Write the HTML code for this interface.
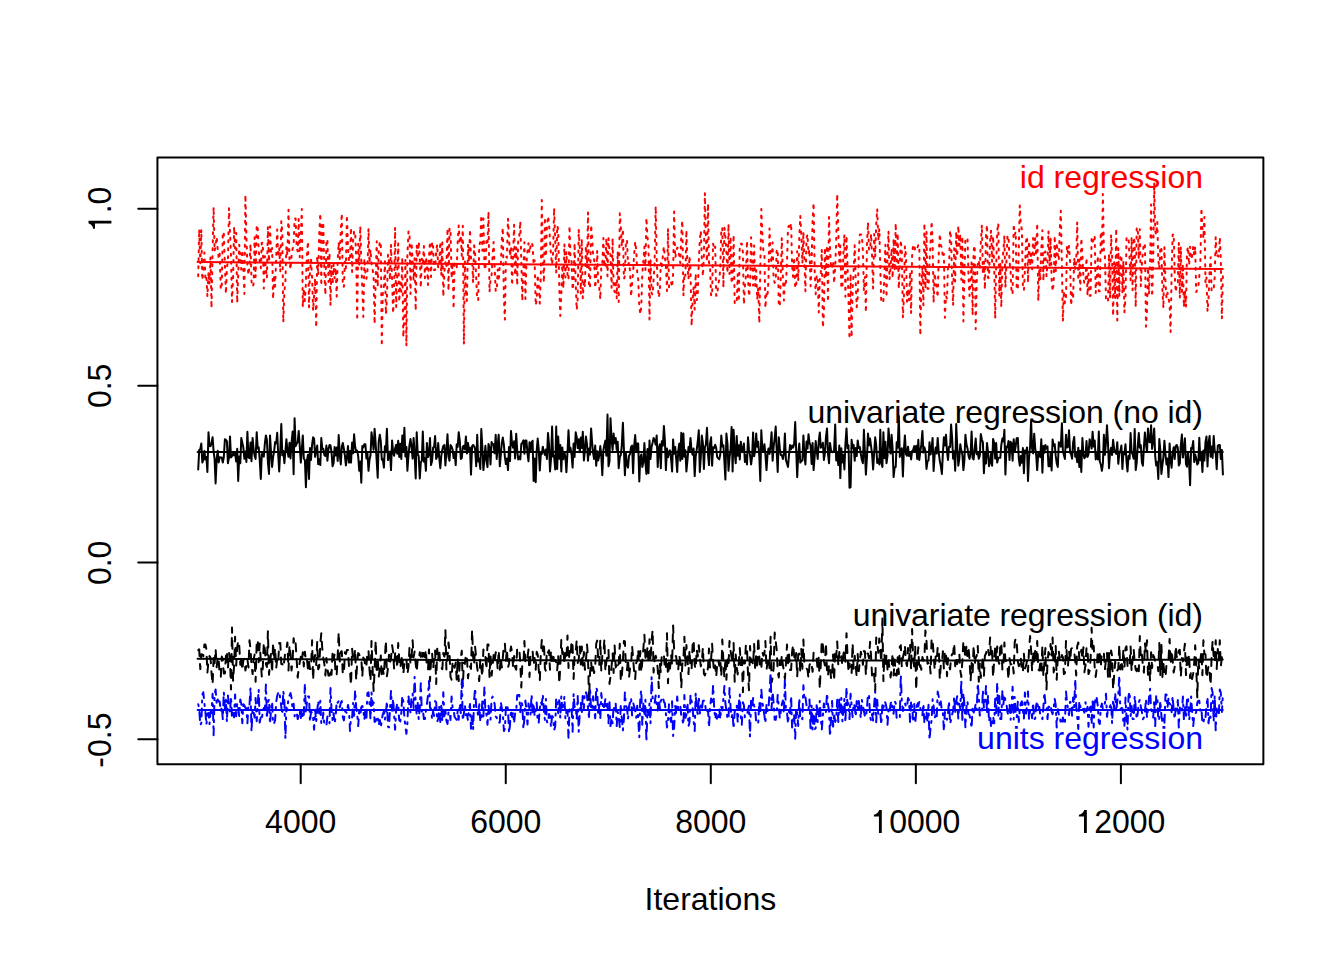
<!DOCTYPE html>
<html><head><meta charset="utf-8"><title>MCMC traces</title>
<style>
html,body{margin:0;padding:0;background:#fff;}
svg{display:block;}
text{font-family:"Liberation Sans", sans-serif;font-size:32px;}
</style></head>
<body>
<svg width="1344" height="960" viewBox="0 0 1344 960">
<rect x="0" y="0" width="1344" height="960" fill="#fff"/>
<g text-anchor="end">
<text x="1203" y="187.8" fill="#ff0000">id regression</text>
<text x="1203" y="422.8" fill="#000" textLength="395.6" lengthAdjust="spacing">univariate regression (no id)</text>
<text x="1203" y="626.1" fill="#000" textLength="350.3" lengthAdjust="spacing">univariate regression (id)</text>
<text x="1203" y="749.3" fill="#0000ff">units regression</text>
</g>
<g fill="none" stroke-linecap="round" stroke-linejoin="round" stroke-width="2">
<polyline stroke="#ff0000" stroke-dasharray="2 6" points="198.2,276.2 199.2,229.3 200.3,263.3 201.3,229.5 202.3,280.2 203.3,272.2 204.4,252.6 205.4,279.3 206.4,276.7 207.4,296.6 208.5,272.1 209.5,284.2 210.5,256.7 211.5,308.1 212.6,250.4 213.6,207.1 214.6,251.1 215.6,245.6 216.7,236.7 217.7,250.0 218.7,257.7 219.7,253.2 220.8,289.6 221.8,285.1 222.8,231.8 223.8,233.6 224.9,264.5 225.9,293.9 226.9,267.7 227.9,260.7 229.0,208.0 230.0,232.1 231.0,256.1 232.0,301.9 233.1,277.0 234.1,226.6 235.1,248.5 236.2,233.1 237.2,302.8 238.2,274.6 239.2,244.8 240.3,256.5 241.3,269.6 242.3,250.1 243.3,268.4 244.4,293.9 245.4,194.7 246.4,237.6 247.4,265.1 248.5,275.0 249.5,265.7 250.5,244.0 251.5,281.4 252.6,286.8 253.6,284.0 254.6,237.2 255.6,277.1 256.7,224.8 257.7,227.9 258.7,250.7 259.7,261.1 260.8,268.2 261.8,242.9 262.8,242.4 263.8,288.6 264.9,256.2 265.9,269.1 266.9,278.0 267.9,226.6 269.0,261.8 270.0,226.6 271.0,253.1 272.1,247.9 273.1,299.2 274.1,274.9 275.1,286.6 276.2,256.9 277.2,229.4 278.2,257.2 279.2,247.4 280.3,271.8 281.3,221.3 282.3,231.9 283.3,322.2 284.4,291.4 285.4,281.3 286.4,246.6 287.4,255.1 288.5,209.8 289.5,260.2 290.5,269.5 291.5,256.2 292.6,248.9 293.6,245.6 294.6,218.6 295.6,218.4 296.7,248.0 297.7,251.4 298.7,219.0 299.7,257.3 300.8,235.3 301.8,208.9 302.8,307.2 303.8,288.7 304.9,300.9 305.9,282.6 306.9,255.0 308.0,241.4 309.0,307.5 310.0,272.1 311.0,259.5 312.1,277.9 313.1,310.7 314.1,295.0 315.1,278.4 316.2,327.6 317.2,256.2 318.2,275.1 319.2,234.9 320.3,213.3 321.3,285.8 322.3,222.1 323.3,224.4 324.4,273.3 325.4,295.0 326.4,242.3 327.4,239.1 328.5,281.9 329.5,252.8 330.5,305.4 331.5,265.6 332.6,284.6 333.6,263.6 334.6,278.3 335.6,267.9 336.7,296.6 337.7,260.2 338.7,242.2 339.8,259.1 340.8,230.1 341.8,213.3 342.8,286.8 343.9,286.8 344.9,261.8 345.9,268.3 346.9,215.1 348.0,246.6 349.0,261.5 350.0,258.8 351.0,227.6 352.1,271.9 353.1,241.1 354.1,231.4 355.1,231.0 356.2,257.7 357.2,320.5 358.2,243.8 359.2,265.3 360.3,226.1 361.3,261.4 362.3,288.8 363.3,316.9 364.4,258.4 365.4,272.9 366.4,278.8 367.4,273.5 368.5,228.4 369.5,263.1 370.5,249.5 371.5,263.7 372.6,268.9 373.6,276.9 374.6,324.0 375.7,279.0 376.7,241.3 377.7,286.9 378.7,252.7 379.8,241.3 380.8,245.2 381.8,346.1 382.8,294.1 383.9,286.1 384.9,261.3 385.9,314.1 386.9,299.7 388.0,254.5 389.0,261.7 390.0,280.0 391.0,244.4 392.1,280.3 393.1,313.4 394.1,292.1 395.1,227.5 396.2,307.2 397.2,276.4 398.2,243.5 399.2,302.0 400.3,282.4 401.3,291.8 402.3,257.4 403.3,337.3 404.4,315.7 405.4,260.0 406.4,346.1 407.4,255.0 408.5,231.4 409.5,231.4 410.5,294.1 411.6,242.7 412.6,260.3 413.6,280.7 414.6,258.3 415.7,310.7 416.7,245.2 417.7,258.7 418.7,241.6 419.8,257.3 420.8,287.7 421.8,258.8 422.8,263.9 423.9,246.1 424.9,278.2 425.9,257.0 426.9,263.5 428.0,285.0 429.0,256.3 430.0,241.6 431.0,277.0 432.1,241.7 433.1,246.9 434.1,270.1 435.1,269.9 436.2,251.2 437.2,244.3 438.2,268.0 439.2,264.4 440.3,241.7 441.3,275.5 442.3,242.6 443.3,296.6 444.4,271.2 445.4,262.3 446.4,267.9 447.5,228.4 448.5,290.8 449.5,228.4 450.5,228.4 451.6,278.6 452.6,262.3 453.6,309.0 454.6,263.5 455.7,265.4 456.7,268.0 457.7,242.0 458.7,225.4 459.8,243.9 460.8,235.1 461.8,256.0 462.8,225.7 463.9,344.4 464.9,261.4 465.9,290.4 466.9,301.0 468.0,244.5 469.0,262.1 470.0,229.3 471.0,258.4 472.1,259.1 473.1,282.6 474.1,245.3 475.1,254.2 476.2,277.8 477.2,300.1 478.2,300.1 479.2,247.0 480.3,241.0 481.3,215.1 482.3,250.8 483.4,218.5 484.4,265.2 485.4,270.1 486.4,241.3 487.5,244.8 488.5,211.6 489.5,292.1 490.5,280.7 491.6,275.4 492.6,256.1 493.6,242.1 494.6,265.9 495.7,291.3 496.7,290.6 497.7,269.5 498.7,281.3 499.8,264.8 500.8,265.3 501.8,240.0 502.8,227.5 503.9,299.5 504.9,319.6 505.9,256.6 506.9,257.7 508.0,218.6 509.0,237.6 510.0,256.3 511.0,247.2 512.1,285.5 513.1,254.1 514.1,224.8 515.1,275.2 516.2,247.5 517.2,285.5 518.2,239.9 519.3,235.9 520.3,221.3 521.3,260.9 522.3,301.0 523.4,271.0 524.4,242.3 525.4,298.9 526.4,264.8 527.5,250.8 528.5,243.2 529.5,253.0 530.5,246.1 531.6,242.3 532.6,245.5 533.6,264.5 534.6,260.2 535.7,305.4 536.7,299.5 537.7,274.7 538.7,284.7 539.8,303.6 540.8,275.3 541.8,200.1 542.8,259.6 543.9,282.6 544.9,217.3 545.9,256.7 546.9,227.5 548.0,216.0 549.0,223.1 550.0,240.8 551.0,255.8 552.1,264.5 553.1,252.3 554.1,208.0 555.2,239.7 556.2,272.8 557.2,225.7 558.2,229.3 559.3,288.4 560.3,316.0 561.3,294.1 562.3,265.0 563.4,288.1 564.4,244.0 565.4,277.4 566.4,251.6 567.5,274.7 568.5,279.5 569.5,225.7 570.5,256.7 571.6,261.7 572.6,290.0 573.6,282.5 574.6,243.1 575.7,283.0 576.7,309.8 577.7,298.9 578.7,229.3 579.8,248.3 580.8,293.8 581.8,238.9 582.8,298.3 583.9,280.2 584.9,286.9 585.9,245.5 587.0,267.8 588.0,212.4 589.0,287.7 590.0,287.7 591.1,224.8 592.1,236.9 593.1,254.8 594.1,258.8 595.2,288.1 596.2,277.8 597.2,250.6 598.2,284.2 599.3,288.3 600.3,299.2 601.3,265.2 602.3,264.0 603.4,238.1 604.4,267.4 605.4,265.8 606.4,238.1 607.5,276.2 608.5,238.1 609.5,251.3 610.5,254.8 611.6,287.7 612.6,238.1 613.6,287.7 614.6,292.0 615.7,280.3 616.7,298.7 617.7,251.4 618.7,301.9 619.8,213.3 620.8,226.6 621.8,246.7 622.9,228.9 623.9,279.0 624.9,275.8 625.9,241.9 627.0,239.9 628.0,264.9 629.0,262.7 630.0,270.6 631.1,296.6 632.1,283.0 633.1,272.9 634.1,254.9 635.2,241.7 636.2,249.4 637.2,272.8 638.2,279.4 639.3,306.3 640.3,314.3 641.3,306.3 642.3,273.2 643.4,261.0 644.4,246.5 645.4,270.2 646.4,217.8 647.5,237.5 648.5,245.4 649.5,319.6 650.5,259.1 651.6,293.3 652.6,294.8 653.6,279.0 654.6,263.0 655.7,206.3 656.7,259.2 657.7,285.1 658.8,297.4 659.8,291.4 660.8,263.2 661.8,268.3 662.9,255.0 663.9,246.4 664.9,257.7 665.9,264.1 667.0,290.9 668.0,228.4 669.0,287.2 670.0,287.2 671.1,282.4 672.1,287.2 673.1,273.5 674.1,211.6 675.2,258.0 676.2,252.9 677.2,247.6 678.2,248.6 679.3,256.4 680.3,263.1 681.3,234.3 682.3,220.4 683.4,295.7 684.4,273.2 685.4,275.7 686.4,230.2 687.5,267.6 688.5,279.1 689.5,256.3 690.5,270.4 691.6,325.8 692.6,301.2 693.6,286.6 694.7,309.6 695.7,273.4 696.7,300.1 697.7,296.9 698.8,261.1 699.8,239.9 700.8,230.7 701.8,257.9 702.9,276.5 703.9,255.7 704.9,193.0 705.9,239.9 707.0,261.5 708.0,203.6 709.0,262.8 710.0,266.0 711.1,295.7 712.1,295.7 713.1,243.5 714.1,249.4 715.2,246.7 716.2,295.7 717.2,295.7 718.2,284.4 719.3,279.2 720.3,268.6 721.3,230.7 722.3,227.5 723.4,287.6 724.4,227.4 725.4,237.3 726.4,251.9 727.5,273.2 728.5,224.0 729.5,274.0 730.6,236.7 731.6,283.5 732.6,277.7 733.6,234.7 734.7,303.2 735.7,303.6 736.7,303.6 737.7,274.2 738.8,301.6 739.8,243.7 740.8,243.7 741.8,243.7 742.9,252.3 743.9,304.5 744.9,286.4 745.9,276.5 747.0,240.8 748.0,278.3 749.0,296.4 750.0,287.4 751.1,237.2 752.1,261.8 753.1,285.6 754.1,245.4 755.2,285.9 756.2,270.2 757.2,299.6 758.2,287.7 759.3,323.1 760.3,268.7 761.3,208.9 762.3,233.0 763.4,251.7 764.4,253.3 765.4,308.1 766.5,292.6 767.5,295.3 768.5,279.1 769.5,228.4 770.6,256.0 771.6,263.1 772.6,242.4 773.6,278.9 774.7,282.9 775.7,281.0 776.7,249.5 777.7,249.6 778.8,306.3 779.8,306.3 780.8,276.5 781.8,237.9 782.9,277.9 783.9,300.4 784.9,280.7 785.9,283.3 787.0,263.0 788.0,227.5 789.0,225.8 790.0,229.6 791.1,223.1 792.1,265.3 793.1,276.8 794.1,257.2 795.2,288.1 796.2,285.9 797.2,251.2 798.2,281.0 799.3,237.8 800.3,216.0 801.3,234.0 802.4,263.2 803.4,231.9 804.4,260.8 805.4,291.3 806.5,238.3 807.5,234.3 808.5,254.0 809.5,249.3 810.6,286.3 811.6,264.1 812.6,220.1 813.6,202.7 814.7,271.3 815.7,294.3 816.7,275.3 817.7,279.1 818.8,312.5 819.8,278.2 820.8,272.9 821.8,249.5 822.9,327.6 823.9,313.3 824.9,247.7 825.9,278.0 827.0,245.5 828.0,301.9 829.0,216.9 830.0,247.9 831.1,268.6 832.1,267.7 833.1,260.9 834.1,283.4 835.2,266.8 836.2,242.2 837.2,193.9 838.3,231.1 839.3,261.6 840.3,245.5 841.3,287.1 842.4,288.4 843.4,252.3 844.4,234.6 845.4,296.7 846.5,235.9 847.5,264.2 848.5,300.3 849.5,339.1 850.6,273.9 851.6,337.3 852.6,291.0 853.6,271.8 854.7,245.2 855.7,282.0 856.7,307.2 857.7,297.5 858.8,253.4 859.8,234.6 860.8,234.6 861.8,234.6 862.9,251.3 863.9,290.9 864.9,277.0 865.9,312.5 867.0,243.2 868.0,222.2 869.0,249.9 870.1,249.7 871.1,233.9 872.1,258.3 873.1,288.6 874.2,234.1 875.2,256.8 876.2,224.2 877.2,208.9 878.3,240.4 879.3,228.6 880.3,268.5 881.3,302.8 882.4,302.8 883.4,300.9 884.4,273.4 885.4,244.7 886.5,297.4 887.5,257.6 888.5,231.2 889.5,279.5 890.6,267.5 891.6,248.6 892.6,278.1 893.6,238.8 894.7,271.1 895.7,223.1 896.7,268.4 897.7,233.3 898.8,288.8 899.8,264.8 900.8,239.9 901.8,251.7 902.9,317.8 903.9,297.9 904.9,246.3 906.0,255.7 907.0,301.7 908.0,289.1 909.0,300.3 910.1,271.8 911.1,313.4 912.1,255.8 913.1,244.8 914.2,244.9 915.2,250.8 916.2,250.5 917.2,248.4 918.3,244.9 919.3,245.2 920.3,335.5 921.3,287.9 922.4,266.3 923.4,305.4 924.4,223.1 925.4,288.9 926.5,231.6 927.5,288.8 928.5,288.7 929.5,261.7 930.6,243.0 931.6,221.3 932.6,240.4 933.6,302.8 934.7,273.1 935.7,281.9 936.7,288.2 937.7,297.4 938.8,253.0 939.8,233.7 940.8,245.5 941.9,247.4 942.9,257.7 943.9,253.9 944.9,317.8 946.0,295.7 947.0,299.0 948.0,266.1 949.0,268.3 950.1,230.2 951.1,238.8 952.1,280.2 953.1,305.4 954.2,248.3 955.2,281.6 956.2,231.7 957.2,256.8 958.3,225.7 959.3,245.8 960.3,234.3 961.3,279.8 962.4,236.4 963.4,321.4 964.4,276.7 965.4,238.3 966.5,238.1 967.5,238.1 968.5,276.2 969.5,295.9 970.6,279.7 971.6,262.5 972.6,315.2 973.6,250.5 974.7,245.3 975.7,329.3 976.7,282.5 977.8,261.7 978.8,260.2 979.8,268.8 980.8,242.6 981.9,224.8 982.9,273.6 983.9,261.5 984.9,289.3 986.0,235.1 987.0,224.8 988.0,277.8 989.0,278.3 990.1,241.1 991.1,230.2 992.1,262.0 993.1,236.1 994.2,266.6 995.2,318.7 996.2,266.4 997.2,231.3 998.3,223.1 999.3,296.0 1000.3,263.7 1001.3,307.2 1002.4,259.5 1003.4,251.0 1004.4,235.5 1005.4,287.5 1006.5,260.3 1007.5,235.5 1008.5,236.3 1009.5,261.0 1010.6,271.2 1011.6,293.9 1012.6,293.9 1013.7,224.0 1014.7,234.8 1015.7,231.8 1016.7,289.5 1017.8,289.5 1018.8,247.2 1019.8,205.4 1020.8,224.3 1021.9,229.7 1022.9,287.4 1023.9,290.4 1024.9,270.9 1026.0,241.1 1027.0,236.4 1028.0,282.4 1029.0,241.0 1030.1,266.0 1031.1,253.9 1032.1,269.2 1033.1,238.1 1034.2,254.9 1035.2,237.8 1036.2,255.9 1037.2,223.1 1038.3,301.0 1039.3,269.0 1040.3,280.4 1041.3,248.7 1042.4,230.2 1043.4,280.8 1044.4,252.4 1045.4,251.5 1046.5,276.3 1047.5,263.3 1048.5,231.0 1049.6,266.0 1050.6,237.7 1051.6,278.9 1052.6,291.3 1053.7,282.8 1054.7,235.6 1055.7,271.3 1056.7,242.6 1057.8,255.1 1058.8,260.4 1059.8,228.8 1060.8,210.7 1061.9,264.9 1062.9,321.4 1063.9,290.9 1064.9,303.1 1066.0,296.4 1067.0,245.9 1068.0,253.2 1069.0,245.9 1070.1,262.3 1071.1,305.4 1072.1,293.1 1073.1,297.9 1074.2,257.8 1075.2,269.7 1076.2,261.4 1077.2,222.2 1078.3,280.6 1079.3,259.0 1080.3,290.0 1081.3,238.1 1082.4,254.1 1083.4,277.8 1084.4,283.7 1085.5,281.5 1086.5,257.6 1087.5,295.7 1088.5,273.4 1089.6,295.7 1090.6,295.7 1091.6,237.8 1092.6,242.1 1093.7,239.5 1094.7,235.5 1095.7,293.0 1096.7,279.6 1097.8,255.7 1098.8,291.3 1099.8,291.3 1100.8,231.9 1101.9,250.9 1102.9,193.9 1103.9,251.7 1104.9,255.7 1106.0,298.8 1107.0,299.0 1108.0,301.9 1109.0,253.9 1110.1,298.4 1111.1,234.6 1112.1,256.9 1113.1,316.0 1114.2,261.7 1115.2,298.5 1116.2,228.4 1117.3,320.5 1118.3,248.0 1119.3,296.6 1120.3,256.9 1121.4,255.0 1122.4,293.1 1123.4,260.3 1124.4,312.5 1125.5,297.5 1126.5,238.1 1127.5,238.1 1128.5,237.2 1129.6,259.0 1130.6,280.4 1131.6,237.2 1132.6,290.3 1133.7,237.2 1134.7,242.9 1135.7,307.2 1136.7,227.5 1137.8,228.1 1138.8,259.0 1139.8,229.3 1140.8,286.5 1141.9,264.0 1142.9,251.8 1143.9,243.4 1144.9,243.8 1146.0,326.7 1147.0,309.9 1148.0,267.6 1149.0,294.1 1150.1,262.4 1151.1,204.5 1152.1,296.6 1153.2,262.5 1154.2,182.5 1155.2,231.1 1156.2,234.8 1157.3,222.1 1158.3,259.8 1159.3,268.8 1160.3,247.9 1161.4,246.5 1162.4,290.6 1163.4,308.1 1164.4,247.3 1165.5,281.8 1166.5,298.4 1167.5,292.8 1168.5,298.2 1169.6,303.9 1170.6,332.0 1171.6,275.0 1172.6,235.0 1173.7,233.7 1174.7,274.5 1175.7,292.1 1176.7,285.0 1177.8,283.3 1178.8,242.5 1179.8,298.3 1180.8,246.7 1181.9,291.8 1182.9,264.2 1183.9,307.2 1184.9,290.8 1186.0,307.1 1187.0,252.3 1188.0,246.7 1189.1,265.1 1190.1,246.7 1191.1,259.4 1192.1,256.5 1193.2,246.7 1194.2,254.9 1195.2,246.7 1196.2,292.1 1197.3,289.6 1198.3,287.2 1199.3,276.3 1200.3,264.9 1201.4,208.0 1202.4,227.3 1203.4,238.3 1204.4,216.9 1205.5,283.1 1206.5,277.5 1207.5,311.5 1208.5,299.2 1209.6,271.6 1210.6,257.3 1211.6,291.2 1212.6,291.2 1213.7,288.6 1214.7,277.0 1215.7,237.2 1216.7,257.4 1217.8,255.3 1218.8,256.8 1219.8,237.2 1220.8,259.3 1221.9,318.6 1222.9,274.9"/>
<polyline stroke="#000" points="198.2,469.5 199.2,450.1 200.3,449.2 201.3,443.6 202.3,462.5 203.3,460.2 204.4,450.9 205.4,459.5 206.4,457.0 207.4,472.0 208.5,432.2 209.5,446.1 210.5,446.2 211.5,443.3 212.6,437.3 213.6,451.4 214.6,459.0 215.6,483.4 216.7,458.6 217.7,450.8 218.7,462.4 219.7,457.2 220.8,457.6 221.8,457.6 222.8,462.6 223.8,457.3 224.9,439.2 225.9,439.8 226.9,441.4 227.9,463.2 229.0,457.5 230.0,436.4 231.0,457.5 232.0,456.2 233.1,453.7 234.1,455.3 235.1,453.3 236.2,461.6 237.2,448.8 238.2,480.9 239.2,456.6 240.3,463.2 241.3,437.9 242.3,442.6 243.3,447.2 244.4,458.8 245.4,451.4 246.4,461.9 247.4,431.8 248.5,457.3 249.5,458.2 250.5,442.5 251.5,461.3 252.6,437.9 253.6,449.5 254.6,455.6 255.6,459.0 256.7,432.2 257.7,448.4 258.7,447.3 259.7,459.6 260.8,479.0 261.8,454.4 262.8,453.2 263.8,456.7 264.9,443.0 265.9,435.4 266.9,440.0 267.9,462.2 269.0,473.9 270.0,435.4 271.0,451.8 272.1,467.0 273.1,457.0 274.1,451.7 275.1,442.1 276.2,443.3 277.2,432.8 278.2,454.5 279.2,471.4 280.3,449.2 281.3,424.0 282.3,455.3 283.3,450.9 284.4,463.2 285.4,450.9 286.4,439.2 287.4,450.5 288.5,456.8 289.5,442.8 290.5,458.4 291.5,443.5 292.6,431.6 293.6,474.3 294.6,418.3 295.6,446.2 296.7,443.5 297.7,442.2 298.7,430.9 299.7,445.2 300.8,462.6 301.8,449.6 302.8,435.4 303.8,458.5 304.9,460.1 305.9,487.2 306.9,460.7 308.0,454.8 309.0,479.0 310.0,448.0 311.0,460.0 312.1,444.5 313.1,437.3 314.1,438.7 315.1,456.9 316.2,450.3 317.2,445.5 318.2,464.2 319.2,459.2 320.3,465.1 321.3,438.1 322.3,449.2 323.3,448.7 324.4,455.2 325.4,456.0 326.4,445.5 327.4,460.7 328.5,449.0 329.5,445.0 330.5,445.5 331.5,452.1 332.6,466.3 333.6,463.1 334.6,447.1 335.6,455.6 336.7,447.6 337.7,460.9 338.7,435.1 339.8,455.1 340.8,464.4 341.8,446.7 342.8,443.0 343.9,449.0 344.9,455.7 345.9,465.5 346.9,457.4 348.0,446.1 349.0,462.6 350.0,451.0 351.0,462.6 352.1,442.5 353.1,453.3 354.1,434.3 355.1,446.5 356.2,451.6 357.2,450.6 358.2,456.1 359.2,470.8 360.3,461.5 361.3,482.8 362.3,446.0 363.3,447.4 364.4,444.2 365.4,444.2 366.4,458.4 367.4,452.8 368.5,470.8 369.5,459.8 370.5,455.3 371.5,432.2 372.6,440.8 373.6,449.8 374.6,428.8 375.7,444.4 376.7,461.2 377.7,477.7 378.7,441.6 379.8,434.7 380.8,441.3 381.8,459.8 382.8,459.1 383.9,467.6 384.9,446.3 385.9,450.7 386.9,428.8 388.0,460.1 389.0,456.7 390.0,451.6 391.0,470.1 392.1,440.4 393.1,451.9 394.1,455.8 395.1,448.5 396.2,444.7 397.2,453.7 398.2,440.7 399.2,456.9 400.3,443.7 401.3,459.0 402.3,435.4 403.3,451.4 404.4,427.8 405.4,456.5 406.4,446.9 407.4,470.8 408.5,455.3 409.5,444.8 410.5,439.0 411.6,447.7 412.6,458.6 413.6,438.1 414.6,453.7 415.7,478.4 416.7,432.2 417.7,453.8 418.7,456.2 419.8,478.4 420.8,462.5 421.8,460.6 422.8,431.6 423.9,461.7 424.9,458.2 425.9,470.8 426.9,442.9 428.0,457.1 429.0,454.8 430.0,438.1 431.0,465.1 432.1,461.0 433.1,447.6 434.1,447.0 435.1,436.0 436.2,459.0 437.2,456.4 438.2,443.0 439.2,457.3 440.3,468.2 441.3,455.9 442.3,449.7 443.3,445.9 444.4,445.0 445.4,465.5 446.4,452.2 447.5,434.3 448.5,457.0 449.5,460.7 450.5,445.0 451.6,446.5 452.6,449.5 453.6,458.1 454.6,452.6 455.7,465.1 456.7,444.2 457.7,446.9 458.7,432.2 459.8,441.0 460.8,459.0 461.8,458.1 462.8,446.8 463.9,445.7 464.9,449.6 465.9,436.4 466.9,453.5 468.0,442.9 469.0,450.9 470.0,447.8 471.0,474.6 472.1,446.1 473.1,445.0 474.1,446.1 475.1,449.1 476.2,466.3 477.2,434.7 478.2,461.5 479.2,458.8 480.3,468.9 481.3,429.0 482.3,446.7 483.4,470.1 484.4,459.3 485.4,445.8 486.4,460.4 487.5,467.0 488.5,444.0 489.5,447.2 490.5,464.4 491.6,442.1 492.6,444.6 493.6,444.3 494.6,453.3 495.7,434.7 496.7,459.0 497.7,445.8 498.7,434.7 499.8,466.3 500.8,454.8 501.8,442.9 502.8,437.6 503.9,445.0 504.9,457.1 505.9,464.1 506.9,458.5 508.0,470.1 509.0,447.1 510.0,461.1 511.0,430.9 512.1,444.2 513.1,447.7 514.1,441.2 515.1,458.5 516.2,433.8 517.2,450.3 518.2,459.4 519.3,456.6 520.3,459.4 521.3,444.0 522.3,443.0 523.4,440.4 524.4,453.7 525.4,440.4 526.4,440.4 527.5,453.4 528.5,461.3 529.5,442.3 530.5,451.4 531.6,442.2 532.6,440.7 533.6,480.9 534.6,458.6 535.7,482.2 536.7,450.7 537.7,438.5 538.7,448.8 539.8,470.5 540.8,453.5 541.8,454.1 542.8,446.7 543.9,451.4 544.9,454.9 545.9,449.6 546.9,459.0 548.0,433.1 549.0,444.8 550.0,471.4 551.0,459.5 552.1,426.5 553.1,456.8 554.1,455.8 555.2,469.5 556.2,426.5 557.2,468.9 558.2,436.6 559.3,458.8 560.3,444.9 561.3,471.4 562.3,447.4 563.4,459.2 564.4,452.2 565.4,456.9 566.4,472.3 567.5,452.3 568.5,430.3 569.5,450.1 570.5,447.9 571.6,455.2 572.6,467.6 573.6,443.6 574.6,456.9 575.7,432.2 576.7,437.3 577.7,448.1 578.7,439.2 579.8,452.2 580.8,437.5 581.8,447.9 582.8,431.8 583.9,460.4 584.9,450.6 585.9,436.4 587.0,444.5 588.0,460.7 589.0,448.5 590.0,454.4 591.1,428.4 592.1,442.3 593.1,453.0 594.1,459.0 595.2,445.5 596.2,465.7 597.2,451.3 598.2,460.4 599.3,455.6 600.3,446.1 601.3,456.0 602.3,475.2 603.4,450.2 604.4,444.9 605.4,440.6 606.4,455.8 607.5,414.5 608.5,466.3 609.5,461.3 610.5,418.3 611.6,439.6 612.6,450.0 613.6,433.5 614.6,443.3 615.7,437.9 616.7,449.8 617.7,441.7 618.7,468.2 619.8,456.8 620.8,455.0 621.8,445.1 622.9,422.7 623.9,449.4 624.9,475.2 625.9,453.6 627.0,465.1 628.0,467.6 629.0,455.7 630.0,454.2 631.1,446.9 632.1,445.5 633.1,473.3 634.1,446.5 635.2,435.1 636.2,451.5 637.2,443.5 638.2,443.6 639.3,481.5 640.3,457.8 641.3,454.4 642.3,467.0 643.4,461.7 644.4,443.0 645.4,462.6 646.4,473.9 647.5,449.0 648.5,473.3 649.5,440.4 650.5,459.0 651.6,446.7 652.6,442.7 653.6,437.9 654.6,439.9 655.7,444.8 656.7,435.4 657.7,467.0 658.8,447.9 659.8,444.2 660.8,468.2 661.8,441.2 662.9,445.7 663.9,425.9 664.9,440.6 665.9,470.1 667.0,448.6 668.0,457.3 669.0,451.8 670.0,450.3 671.1,459.2 672.1,471.4 673.1,439.4 674.1,453.8 675.2,446.9 676.2,458.8 677.2,472.0 678.2,451.2 679.3,443.5 680.3,460.8 681.3,432.8 682.3,459.0 683.4,433.5 684.4,456.8 685.4,450.3 686.4,471.4 687.5,460.0 688.5,447.0 689.5,450.2 690.5,438.1 691.6,450.7 692.6,454.8 693.6,448.6 694.7,476.1 695.7,456.4 696.7,449.8 697.7,442.0 698.8,430.3 699.8,472.0 700.8,457.1 701.8,435.4 702.9,443.3 703.9,468.9 704.9,447.0 705.9,444.5 707.0,427.8 708.0,454.2 709.0,465.1 710.0,444.0 711.1,437.3 712.1,465.7 713.1,447.3 714.1,448.2 715.2,444.8 716.2,448.1 717.2,457.0 718.2,458.3 719.3,459.4 720.3,454.2 721.3,435.6 722.3,446.6 723.4,445.2 724.4,461.4 725.4,479.6 726.4,433.5 727.5,444.1 728.5,470.8 729.5,458.0 730.6,449.0 731.6,427.1 732.6,471.4 733.6,429.7 734.7,452.9 735.7,463.2 736.7,436.0 737.7,455.8 738.8,445.2 739.8,459.4 740.8,441.7 741.8,451.2 742.9,449.2 743.9,443.6 744.9,462.0 745.9,455.3 747.0,464.4 748.0,437.3 749.0,449.4 750.0,455.1 751.1,464.4 752.1,456.7 753.1,432.6 754.1,456.2 755.2,450.8 756.2,433.5 757.2,446.8 758.2,441.8 759.3,456.0 760.3,480.9 761.3,430.3 762.3,448.2 763.4,451.7 764.4,444.2 765.4,454.5 766.5,470.1 767.5,455.0 768.5,448.4 769.5,453.9 770.6,444.8 771.6,432.2 772.6,460.7 773.6,447.1 774.7,438.0 775.7,426.5 776.7,451.4 777.7,472.0 778.8,437.3 779.8,448.2 780.8,455.0 781.8,455.3 782.9,459.0 783.9,453.5 784.9,433.5 785.9,459.9 787.0,463.5 788.0,467.0 789.0,455.0 790.0,445.0 791.1,449.2 792.1,445.5 793.1,447.6 794.1,444.2 795.2,422.1 796.2,450.8 797.2,477.1 798.2,455.3 799.3,443.6 800.3,462.6 801.3,461.0 802.4,460.4 803.4,435.4 804.4,455.5 805.4,464.4 806.5,441.5 807.5,448.6 808.5,434.3 809.5,442.6 810.6,445.5 811.6,464.0 812.6,443.0 813.6,470.1 814.7,456.1 815.7,441.0 816.7,450.7 817.7,459.0 818.8,440.7 819.8,432.6 820.8,447.8 821.8,446.0 822.9,442.8 823.9,460.0 824.9,453.0 825.9,438.2 827.0,428.4 828.0,453.6 829.0,463.2 830.0,442.9 831.1,451.0 832.1,452.2 833.1,451.8 834.1,450.6 835.2,424.6 836.2,460.4 837.2,453.4 838.3,465.1 839.3,445.5 840.3,478.1 841.3,448.2 842.4,462.4 843.4,454.7 844.4,469.5 845.4,444.2 846.5,428.4 847.5,448.1 848.5,445.4 849.5,487.8 850.6,487.2 851.6,439.8 852.6,448.0 853.6,444.9 854.7,460.7 855.7,447.9 856.7,456.1 857.7,440.4 858.8,448.1 859.8,447.0 860.8,453.8 861.8,459.6 862.9,463.2 863.9,429.7 864.9,451.8 865.9,474.6 867.0,456.8 868.0,433.5 869.0,445.4 870.1,438.5 871.1,446.7 872.1,454.4 873.1,469.5 874.2,452.1 875.2,437.3 876.2,445.0 877.2,463.0 878.3,459.3 879.3,464.4 880.3,429.7 881.3,462.5 882.4,467.0 883.4,432.2 884.4,458.2 885.4,441.8 886.5,463.2 887.5,455.9 888.5,428.4 889.5,442.2 890.6,453.6 891.6,434.7 892.6,448.6 893.6,477.1 894.7,467.2 895.7,467.0 896.7,442.3 897.7,447.8 898.8,416.0 899.8,456.9 900.8,452.0 901.8,448.3 902.9,476.5 903.9,449.3 904.9,435.4 906.0,454.2 907.0,455.7 908.0,446.7 909.0,455.9 910.1,452.2 911.1,459.4 912.1,451.1 913.1,450.3 914.2,446.1 915.2,451.5 916.2,445.8 917.2,459.0 918.3,439.8 919.3,460.0 920.3,451.7 921.3,444.7 922.4,430.9 923.4,452.6 924.4,447.2 925.4,450.8 926.5,468.9 927.5,461.2 928.5,460.5 929.5,442.3 930.6,454.6 931.6,448.7 932.6,437.9 933.6,471.0 934.7,454.4 935.7,447.5 936.7,453.4 937.7,437.9 938.8,453.2 939.8,461.1 940.8,465.8 941.9,473.9 942.9,452.8 943.9,437.3 944.9,445.6 946.0,434.7 947.0,451.4 948.0,460.0 949.0,446.8 950.1,447.1 951.1,424.6 952.1,437.6 953.1,458.7 954.2,451.3 955.2,470.8 956.2,424.0 957.2,445.9 958.3,465.7 959.3,458.8 960.3,444.2 961.3,450.6 962.4,454.7 963.4,470.1 964.4,460.4 965.4,434.7 966.5,444.6 967.5,448.4 968.5,455.6 969.5,459.0 970.6,453.3 971.6,431.6 972.6,457.9 973.6,459.4 974.7,448.5 975.7,438.5 976.7,454.3 977.8,452.9 978.8,458.8 979.8,455.6 980.8,434.1 981.9,439.8 982.9,442.4 983.9,473.3 984.9,453.8 986.0,463.4 987.0,443.0 988.0,451.5 989.0,466.3 990.1,462.3 991.1,453.1 992.1,465.7 993.1,438.9 994.2,443.1 995.2,458.6 996.2,443.0 997.2,462.6 998.3,458.0 999.3,457.7 1000.3,457.8 1001.3,444.8 1002.4,438.4 1003.4,441.5 1004.4,429.7 1005.4,474.6 1006.5,446.4 1007.5,447.1 1008.5,441.0 1009.5,460.0 1010.6,441.7 1011.6,443.3 1012.6,460.7 1013.7,439.2 1014.7,451.7 1015.7,446.2 1016.7,438.2 1017.8,438.1 1018.8,458.8 1019.8,465.7 1020.8,456.1 1021.9,462.8 1022.9,448.0 1023.9,473.3 1024.9,450.5 1026.0,452.6 1027.0,447.4 1028.0,480.9 1029.0,458.3 1030.1,445.9 1031.1,420.2 1032.1,448.8 1033.1,453.4 1034.2,433.8 1035.2,448.0 1036.2,455.4 1037.2,470.1 1038.3,452.6 1039.3,454.0 1040.3,457.1 1041.3,439.2 1042.4,472.7 1043.4,445.9 1044.4,452.8 1045.4,445.0 1046.5,448.6 1047.5,446.5 1048.5,466.3 1049.6,466.3 1050.6,452.6 1051.6,470.5 1052.6,439.4 1053.7,446.1 1054.7,444.2 1055.7,455.9 1056.7,463.2 1057.8,467.0 1058.8,442.2 1059.8,443.3 1060.8,446.8 1061.9,423.3 1062.9,451.4 1063.9,455.0 1064.9,459.0 1066.0,434.7 1067.0,447.6 1068.0,446.7 1069.0,430.3 1070.1,452.8 1071.1,454.3 1072.1,458.8 1073.1,442.8 1074.2,436.9 1075.2,456.7 1076.2,453.6 1077.2,462.2 1078.3,447.8 1079.3,467.0 1080.3,450.8 1081.3,472.0 1082.4,438.1 1083.4,453.7 1084.4,458.3 1085.5,456.2 1086.5,441.0 1087.5,456.9 1088.5,454.3 1089.6,439.2 1090.6,442.7 1091.6,448.5 1092.6,431.8 1093.7,446.6 1094.7,440.4 1095.7,459.4 1096.7,452.8 1097.8,459.4 1098.8,431.6 1099.8,461.7 1100.8,464.3 1101.9,470.8 1102.9,463.4 1103.9,434.7 1104.9,454.8 1106.0,442.1 1107.0,425.2 1108.0,443.8 1109.0,468.2 1110.1,451.9 1111.1,447.8 1112.1,455.0 1113.1,439.8 1114.2,449.3 1115.2,451.9 1116.2,453.8 1117.3,442.2 1118.3,463.8 1119.3,453.2 1120.3,451.6 1121.4,445.5 1122.4,468.9 1123.4,452.0 1124.4,454.3 1125.5,444.2 1126.5,461.1 1127.5,471.4 1128.5,455.9 1129.6,458.9 1130.6,433.1 1131.6,452.4 1132.6,454.3 1133.7,458.8 1134.7,429.0 1135.7,470.1 1136.7,462.8 1137.8,445.1 1138.8,433.1 1139.8,447.8 1140.8,445.1 1141.9,462.5 1142.9,465.7 1143.9,447.1 1144.9,432.6 1146.0,444.8 1147.0,451.9 1148.0,428.4 1149.0,441.7 1150.1,442.3 1151.1,425.2 1152.1,448.9 1153.2,440.6 1154.2,428.4 1155.2,456.2 1156.2,465.6 1157.3,461.9 1158.3,479.0 1159.3,438.9 1160.3,450.1 1161.4,473.9 1162.4,465.2 1163.4,457.1 1164.4,440.7 1165.5,454.3 1166.5,464.4 1167.5,458.6 1168.5,477.1 1169.6,443.4 1170.6,460.4 1171.6,467.8 1172.6,453.5 1173.7,447.3 1174.7,459.0 1175.7,446.2 1176.7,445.0 1177.8,447.7 1178.8,465.5 1179.8,463.6 1180.8,445.6 1181.9,434.5 1182.9,457.5 1183.9,449.6 1184.9,438.3 1186.0,464.1 1187.0,466.7 1188.0,452.4 1189.1,463.3 1190.1,485.2 1191.1,448.1 1192.1,448.7 1193.2,441.1 1194.2,462.0 1195.2,454.6 1196.2,458.3 1197.3,464.5 1198.3,463.0 1199.3,437.8 1200.3,460.2 1201.4,452.7 1202.4,472.0 1203.4,450.4 1204.4,460.6 1205.5,441.9 1206.5,436.4 1207.5,466.4 1208.5,443.7 1209.6,435.9 1210.6,456.7 1211.6,446.5 1212.6,458.0 1213.7,435.9 1214.7,450.7 1215.7,453.3 1216.7,469.2 1217.8,445.8 1218.8,445.0 1219.8,445.0 1220.8,459.0 1221.9,450.0 1222.9,474.4"/>
<polyline stroke="#000" stroke-dasharray="8 8" points="198.2,650.2 199.2,649.3 200.3,669.1 201.3,654.2 202.3,654.5 203.3,656.1 204.4,644.5 205.4,644.5 206.4,649.1 207.4,672.6 208.5,660.9 209.5,656.1 210.5,657.5 211.5,672.6 212.6,684.6 213.6,657.2 214.6,663.7 215.6,648.7 216.7,667.3 217.7,657.1 218.7,660.1 219.7,675.4 220.8,676.9 221.8,656.6 222.8,659.5 223.8,673.4 224.9,673.4 225.9,656.3 226.9,650.9 227.9,668.7 229.0,652.2 230.0,659.3 231.0,689.5 232.0,627.4 233.1,681.1 234.1,665.3 235.1,636.8 236.2,665.6 237.2,647.1 238.2,640.6 239.2,644.5 240.3,664.7 241.3,655.2 242.3,670.5 243.3,660.3 244.4,658.9 245.4,670.5 246.4,665.2 247.4,659.3 248.5,667.4 249.5,640.3 250.5,649.1 251.5,665.1 252.6,674.1 253.6,659.6 254.6,654.6 255.6,681.8 256.7,642.2 257.7,639.6 258.7,662.2 259.7,643.4 260.8,660.9 261.8,676.9 262.8,667.8 263.8,642.4 264.9,649.6 265.9,663.9 266.9,667.0 267.9,631.2 269.0,674.8 270.0,663.4 271.0,653.2 272.1,672.9 273.1,642.4 274.1,660.6 275.1,647.9 276.2,668.6 277.2,658.9 278.2,662.8 279.2,643.1 280.3,643.1 281.3,663.9 282.3,663.9 283.3,667.5 284.4,660.0 285.4,650.6 286.4,649.1 287.4,642.4 288.5,670.5 289.5,644.9 290.5,654.2 291.5,670.5 292.6,660.6 293.6,638.2 294.6,645.7 295.6,642.6 296.7,660.5 297.7,677.6 298.7,668.4 299.7,662.5 300.8,656.7 301.8,661.8 302.8,652.3 303.8,666.5 304.9,651.7 305.9,661.0 306.9,659.2 308.0,669.1 309.0,661.8 310.0,669.1 311.0,669.1 312.1,640.3 313.1,680.4 314.1,658.4 315.1,654.9 316.2,664.9 317.2,641.9 318.2,669.2 319.2,667.3 320.3,644.0 321.3,633.3 322.3,648.8 323.3,657.7 324.4,664.3 325.4,675.5 326.4,658.1 327.4,668.2 328.5,675.5 329.5,675.5 330.5,668.8 331.5,674.8 332.6,651.5 333.6,659.9 334.6,654.0 335.6,675.5 336.7,674.8 337.7,655.6 338.7,631.9 339.8,661.5 340.8,651.8 341.8,651.2 342.8,674.1 343.9,674.1 344.9,652.3 345.9,654.0 346.9,650.0 348.0,650.0 349.0,666.7 350.0,670.6 351.0,685.3 352.1,648.7 353.1,660.2 354.1,661.6 355.1,648.7 356.2,680.4 357.2,661.7 358.2,653.0 359.2,654.4 360.3,657.2 361.3,657.5 362.3,676.9 363.3,657.6 364.4,659.3 365.4,667.8 366.4,665.4 367.4,653.0 368.5,650.1 369.5,669.6 370.5,681.1 371.5,641.0 372.6,668.5 373.6,690.9 374.6,670.4 375.7,640.3 376.7,673.9 377.7,657.7 378.7,676.9 379.8,669.0 380.8,655.4 381.8,676.9 382.8,668.8 383.9,675.4 384.9,657.3 385.9,640.3 386.9,676.2 388.0,668.2 389.0,654.7 390.0,663.0 391.0,658.3 392.1,645.2 393.1,651.9 394.1,668.9 395.1,653.5 396.2,651.2 397.2,668.4 398.2,643.1 399.2,659.1 400.3,668.0 401.3,660.2 402.3,655.1 403.3,674.1 404.4,662.8 405.4,662.6 406.4,658.7 407.4,674.1 408.5,667.1 409.5,647.3 410.5,663.8 411.6,657.1 412.6,640.3 413.6,657.4 414.6,651.5 415.7,663.9 416.7,672.0 417.7,659.0 418.7,660.1 419.8,652.3 420.8,656.9 421.8,650.7 422.8,656.8 423.9,649.4 424.9,657.0 425.9,649.4 426.9,669.1 428.0,669.4 429.0,649.4 430.0,681.1 431.0,662.0 432.1,653.3 433.1,668.4 434.1,659.0 435.1,650.4 436.2,683.9 437.2,648.7 438.2,659.9 439.2,648.7 440.3,665.9 441.3,667.7 442.3,669.1 443.3,653.1 444.4,656.6 445.4,629.8 446.4,669.5 447.5,658.7 448.5,642.4 449.5,652.5 450.5,676.9 451.6,679.7 452.6,661.0 453.6,664.0 454.6,667.8 455.7,662.6 456.7,680.1 457.7,658.1 458.7,681.1 459.8,662.9 460.8,657.2 461.8,650.7 462.8,686.7 463.9,662.7 464.9,663.9 465.9,654.4 466.9,656.1 468.0,678.3 469.0,670.4 470.0,666.3 471.0,668.9 472.1,629.8 473.1,656.7 474.1,665.2 475.1,646.6 476.2,658.4 477.2,667.6 478.2,674.2 479.2,681.1 480.3,658.7 481.3,667.7 482.3,676.8 483.4,649.4 484.4,657.5 485.4,656.9 486.4,669.6 487.5,644.5 488.5,644.5 489.5,676.9 490.5,654.3 491.6,675.6 492.6,665.9 493.6,655.0 494.6,661.5 495.7,652.3 496.7,653.5 497.7,669.7 498.7,650.1 499.8,669.7 500.8,657.5 501.8,667.6 502.8,658.4 503.9,643.8 504.9,643.8 505.9,660.7 506.9,649.2 508.0,667.7 509.0,663.7 510.0,653.0 511.0,646.6 512.1,652.4 513.1,667.9 514.1,655.9 515.1,667.0 516.2,669.7 517.2,648.0 518.2,649.1 519.3,649.0 520.3,662.6 521.3,687.4 522.3,664.5 523.4,664.8 524.4,641.0 525.4,661.3 526.4,655.0 527.5,657.5 528.5,649.4 529.5,676.9 530.5,656.2 531.6,650.9 532.6,650.7 533.6,665.3 534.6,657.9 535.7,669.7 536.7,651.8 537.7,654.4 538.7,669.2 539.8,680.4 540.8,653.7 541.8,640.0 542.8,651.0 543.9,642.5 544.9,668.3 545.9,671.2 546.9,650.2 548.0,652.7 549.0,650.2 550.0,669.8 551.0,650.2 552.1,661.1 553.1,653.7 554.1,661.1 555.2,660.0 556.2,662.5 557.2,670.3 558.2,655.4 559.3,683.9 560.3,666.0 561.3,640.0 562.3,653.9 563.4,648.3 564.4,663.9 565.4,653.0 566.4,659.4 567.5,635.4 568.5,668.0 569.5,651.0 570.5,656.6 571.6,640.7 572.6,645.9 573.6,679.0 574.6,654.7 575.7,652.6 576.7,640.0 577.7,663.0 578.7,659.4 579.8,646.6 580.8,664.4 581.8,646.6 582.8,665.4 583.9,652.0 584.9,669.8 585.9,661.9 587.0,644.5 588.0,657.2 589.0,700.1 590.0,673.3 591.1,661.3 592.1,672.9 593.1,667.0 594.1,673.1 595.2,666.8 596.2,643.8 597.2,640.6 598.2,660.4 599.3,664.9 600.3,639.6 601.3,671.2 602.3,655.9 603.4,655.1 604.4,638.9 605.4,671.4 606.4,661.4 607.5,656.5 608.5,649.9 609.5,683.9 610.5,676.5 611.6,666.0 612.6,653.5 613.6,672.9 614.6,645.2 615.7,667.4 616.7,665.5 617.7,669.0 618.7,663.1 619.8,643.8 620.8,681.1 621.8,675.7 622.9,661.7 623.9,641.0 624.9,641.5 625.9,666.4 627.0,670.1 628.0,658.6 629.0,677.6 630.0,668.5 631.1,665.3 632.1,645.9 633.1,658.6 634.1,671.2 635.2,679.0 636.2,662.7 637.2,661.0 638.2,649.4 639.3,669.8 640.3,651.1 641.3,672.6 642.3,661.6 643.4,648.0 644.4,634.7 645.4,657.3 646.4,661.0 647.5,646.1 648.5,663.8 649.5,639.3 650.5,661.2 651.6,641.0 652.6,629.8 653.6,672.6 654.6,658.9 655.7,655.7 656.7,659.5 657.7,668.6 658.8,688.1 659.8,663.3 660.8,672.6 661.8,654.7 662.9,656.0 663.9,654.5 664.9,669.6 665.9,666.9 667.0,633.3 668.0,683.2 669.0,660.7 670.0,668.5 671.1,655.0 672.1,664.9 673.1,625.5 674.1,649.4 675.2,655.9 676.2,656.3 677.2,670.0 678.2,670.0 679.3,655.1 680.3,662.3 681.3,688.1 682.3,664.1 683.4,659.5 684.4,636.8 685.4,665.8 686.4,644.9 687.5,659.1 688.5,674.1 689.5,649.7 690.5,668.6 691.6,669.5 692.6,645.3 693.6,639.6 694.7,665.3 695.7,669.1 696.7,649.1 697.7,656.6 698.8,645.2 699.8,657.0 700.8,666.3 701.8,662.1 702.9,647.3 703.9,673.7 704.9,675.5 705.9,672.4 707.0,674.0 708.0,667.5 709.0,648.5 710.0,667.6 711.1,659.4 712.1,643.8 713.1,661.1 714.1,671.9 715.2,665.5 716.2,676.9 717.2,664.3 718.2,660.2 719.3,665.8 720.3,658.8 721.3,676.9 722.3,639.6 723.4,661.5 724.4,677.6 725.4,658.1 726.4,679.7 727.5,659.6 728.5,666.0 729.5,641.0 730.6,651.2 731.6,657.4 732.6,663.1 733.6,643.1 734.7,681.8 735.7,654.5 736.7,666.6 737.7,674.4 738.8,662.8 739.8,648.0 740.8,665.1 741.8,654.2 742.9,692.3 743.9,660.4 744.9,663.4 745.9,644.5 747.0,648.9 748.0,673.4 749.0,690.2 750.0,645.9 751.1,662.0 752.1,660.6 753.1,665.3 754.1,643.6 755.2,670.1 756.2,652.9 757.2,669.2 758.2,636.8 759.3,655.7 760.3,668.4 761.3,669.4 762.3,651.9 763.4,655.7 764.4,653.9 765.4,641.0 766.5,669.9 767.5,662.9 768.5,657.0 769.5,668.2 770.6,636.8 771.6,682.5 772.6,677.7 773.6,668.2 774.7,632.6 775.7,640.9 776.7,649.9 777.7,671.5 778.8,677.6 779.8,661.1 780.8,669.0 781.8,654.8 782.9,665.3 783.9,670.8 784.9,679.0 785.9,664.5 787.0,644.5 788.0,663.2 789.0,654.4 790.0,670.0 791.1,670.0 792.1,651.8 793.1,644.5 794.1,655.1 795.2,662.8 796.2,653.0 797.2,676.9 798.2,654.6 799.3,653.6 800.3,672.2 801.3,648.9 802.4,668.7 803.4,639.6 804.4,665.8 805.4,666.4 806.5,668.3 807.5,669.8 808.5,678.3 809.5,665.2 810.6,661.8 811.6,663.8 812.6,671.8 813.6,652.3 814.7,653.5 815.7,654.2 816.7,659.1 817.7,670.2 818.8,656.2 819.8,689.5 820.8,663.9 821.8,640.3 822.9,645.3 823.9,660.8 824.9,665.6 825.9,642.7 827.0,671.4 828.0,676.2 829.0,664.3 830.0,666.2 831.1,679.2 832.1,674.3 833.1,654.6 834.1,681.1 835.2,650.9 836.2,657.4 837.2,641.5 838.3,665.5 839.3,652.1 840.3,659.4 841.3,656.3 842.4,665.7 843.4,654.3 844.4,649.3 845.4,661.7 846.5,633.3 847.5,654.9 848.5,672.4 849.5,663.4 850.6,673.4 851.6,673.4 852.6,643.1 853.6,668.8 854.7,655.7 855.7,666.0 856.7,676.9 857.7,654.1 858.8,671.2 859.8,661.9 860.8,651.8 861.8,655.7 862.9,664.8 863.9,651.0 864.9,651.4 865.9,675.5 867.0,653.5 868.0,653.5 869.0,658.3 870.1,641.7 871.1,657.0 872.1,676.4 873.1,671.7 874.2,675.2 875.2,690.9 876.2,637.5 877.2,642.7 878.3,652.8 879.3,638.5 880.3,649.6 881.3,661.9 882.4,618.5 883.4,681.1 884.4,654.9 885.4,667.3 886.5,654.7 887.5,669.5 888.5,660.2 889.5,668.9 890.6,677.4 891.6,668.6 892.6,653.0 893.6,675.5 894.7,659.5 895.7,675.3 896.7,675.5 897.7,657.3 898.8,674.1 899.8,646.7 900.8,645.2 901.8,666.7 902.9,657.5 903.9,652.9 904.9,645.2 906.0,662.0 907.0,666.1 908.0,648.0 909.0,660.3 910.1,645.1 911.1,669.9 912.1,629.1 913.1,656.7 914.2,667.3 915.2,645.5 916.2,690.2 917.2,660.4 918.3,647.3 919.3,669.9 920.3,665.2 921.3,669.8 922.4,657.1 923.4,660.8 924.4,658.8 925.4,630.5 926.5,641.4 927.5,663.7 928.5,663.1 929.5,660.9 930.6,673.4 931.6,638.2 932.6,640.2 933.6,654.1 934.7,669.9 935.7,656.4 936.7,660.3 937.7,647.2 938.8,648.0 939.8,679.7 940.8,665.1 941.9,663.3 942.9,651.3 943.9,669.1 944.9,650.9 946.0,653.0 947.0,676.2 948.0,658.2 949.0,665.8 950.1,669.4 951.1,657.2 952.1,654.1 953.1,653.6 954.2,643.1 955.2,666.2 956.2,657.2 957.2,663.9 958.3,659.8 959.3,653.4 960.3,670.4 961.3,676.9 962.4,660.2 963.4,641.0 964.4,648.0 965.4,658.7 966.5,645.0 967.5,656.1 968.5,647.6 969.5,659.2 970.6,681.1 971.6,663.0 972.6,675.0 973.6,645.2 974.7,664.4 975.7,657.7 976.7,655.9 977.8,645.9 978.8,681.8 979.8,663.6 980.8,677.8 981.9,666.3 982.9,656.1 983.9,676.2 984.9,655.8 986.0,653.5 987.0,647.2 988.0,649.0 989.0,655.2 990.1,637.5 991.1,656.9 992.1,651.1 993.1,677.6 994.2,659.6 995.2,646.6 996.2,660.6 997.2,646.6 998.3,661.2 999.3,663.8 1000.3,645.7 1001.3,642.4 1002.4,669.8 1003.4,668.1 1004.4,642.4 1005.4,661.0 1006.5,660.6 1007.5,667.0 1008.5,679.7 1009.5,658.2 1010.6,664.6 1011.6,664.1 1012.6,661.9 1013.7,673.4 1014.7,642.5 1015.7,638.2 1016.7,642.2 1017.8,661.0 1018.8,666.3 1019.8,662.8 1020.8,657.6 1021.9,672.0 1022.9,672.0 1023.9,653.7 1024.9,668.7 1026.0,666.0 1027.0,661.1 1028.0,671.7 1029.0,650.4 1030.1,636.1 1031.1,650.4 1032.1,671.2 1033.1,650.9 1034.2,664.2 1035.2,650.2 1036.2,658.7 1037.2,641.0 1038.3,669.6 1039.3,670.5 1040.3,662.6 1041.3,670.5 1042.4,645.2 1043.4,676.7 1044.4,662.2 1045.4,648.0 1046.5,689.5 1047.5,662.0 1048.5,652.1 1049.6,654.4 1050.6,643.9 1051.6,656.4 1052.6,637.5 1053.7,672.4 1054.7,666.2 1055.7,645.7 1056.7,679.7 1057.8,657.5 1058.8,650.6 1059.8,661.6 1060.8,662.1 1061.9,655.1 1062.9,657.1 1063.9,674.1 1064.9,673.2 1066.0,641.0 1067.0,657.7 1068.0,665.7 1069.0,650.7 1070.1,661.8 1071.1,648.9 1072.1,648.0 1073.1,648.0 1074.2,651.1 1075.2,661.2 1076.2,675.5 1077.2,646.2 1078.3,642.4 1079.3,658.8 1080.3,659.8 1081.3,649.8 1082.4,658.9 1083.4,647.3 1084.4,672.2 1085.5,665.0 1086.5,647.9 1087.5,647.3 1088.5,674.1 1089.6,671.0 1090.6,659.1 1091.6,627.7 1092.6,652.4 1093.7,645.9 1094.7,667.8 1095.7,676.9 1096.7,668.4 1097.8,650.4 1098.8,662.3 1099.8,654.0 1100.8,667.0 1101.9,651.6 1102.9,652.9 1103.9,653.2 1104.9,669.4 1106.0,659.1 1107.0,653.0 1108.0,676.9 1109.0,652.9 1110.1,677.1 1111.1,650.4 1112.1,655.9 1113.1,689.5 1114.2,674.8 1115.2,661.5 1116.2,669.6 1117.3,670.5 1118.3,668.9 1119.3,644.5 1120.3,669.4 1121.4,660.4 1122.4,669.4 1123.4,648.9 1124.4,668.7 1125.5,648.2 1126.5,646.3 1127.5,665.7 1128.5,668.4 1129.6,664.0 1130.6,646.6 1131.6,671.2 1132.6,659.5 1133.7,649.3 1134.7,662.3 1135.7,669.7 1136.7,671.2 1137.8,665.1 1138.8,671.2 1139.8,636.1 1140.8,658.0 1141.9,654.0 1142.9,666.3 1143.9,672.6 1144.9,643.0 1146.0,652.6 1147.0,640.3 1148.0,676.0 1149.0,662.8 1150.1,681.1 1151.1,652.3 1152.1,667.9 1153.2,655.1 1154.2,657.2 1155.2,661.7 1156.2,663.3 1157.3,663.2 1158.3,671.2 1159.3,643.1 1160.3,674.9 1161.4,643.9 1162.4,676.9 1163.4,662.5 1164.4,673.9 1165.5,676.9 1166.5,664.6 1167.5,662.2 1168.5,659.8 1169.6,638.9 1170.6,664.5 1171.6,650.2 1172.6,659.9 1173.7,672.6 1174.7,666.8 1175.7,645.9 1176.7,656.6 1177.8,658.7 1178.8,650.6 1179.8,649.8 1180.8,676.9 1181.9,658.0 1182.9,661.4 1183.9,652.1 1184.9,643.8 1186.0,675.1 1187.0,657.4 1188.0,665.1 1189.1,653.8 1190.1,678.1 1191.1,671.3 1192.1,679.0 1193.2,673.4 1194.2,663.3 1195.2,645.2 1196.2,665.5 1197.3,698.0 1198.3,659.5 1199.3,669.1 1200.3,661.2 1201.4,651.2 1202.4,675.2 1203.4,640.3 1204.4,653.9 1205.5,654.5 1206.5,678.3 1207.5,672.6 1208.5,665.9 1209.6,672.1 1210.6,685.3 1211.6,657.2 1212.6,641.0 1213.7,657.4 1214.7,662.0 1215.7,640.3 1216.7,669.0 1217.8,649.0 1218.8,660.5 1219.8,640.3 1220.8,666.6 1221.9,657.2 1222.9,650.2"/>
<polyline stroke="#0000ff" stroke-dasharray="2 6 8 6" points="198.2,704.2 199.2,708.5 200.3,725.1 201.3,723.3 202.3,695.0 203.3,692.3 204.4,703.4 205.4,712.0 206.4,724.7 207.4,713.7 208.5,712.9 209.5,724.1 210.5,712.0 211.5,713.0 212.6,693.7 213.6,735.2 214.6,694.2 215.6,689.5 216.7,704.2 217.7,699.4 218.7,701.5 219.7,701.6 220.8,711.2 221.8,706.9 222.8,719.1 223.8,692.0 224.9,708.3 225.9,699.4 226.9,721.9 227.9,695.2 229.0,707.7 230.0,712.2 231.0,696.4 232.0,718.2 233.1,710.4 234.1,717.3 235.1,694.4 236.2,716.2 237.2,703.2 238.2,707.9 239.2,715.9 240.3,699.4 241.3,703.9 242.3,723.3 243.3,704.2 244.4,705.5 245.4,707.9 246.4,708.2 247.4,723.3 248.5,703.5 249.5,704.8 250.5,687.4 251.5,731.7 252.6,709.1 253.6,711.7 254.6,717.6 255.6,697.9 256.7,721.2 257.7,704.7 258.7,689.5 259.7,722.6 260.8,717.0 261.8,719.6 262.8,710.7 263.8,708.0 264.9,710.1 265.9,684.6 266.9,718.7 267.9,702.3 269.0,699.4 270.0,724.0 271.0,710.9 272.1,701.5 273.1,724.0 274.1,723.3 275.1,720.3 276.2,701.9 277.2,695.8 278.2,692.6 279.2,691.5 280.3,698.8 281.3,706.8 282.3,714.5 283.3,690.9 284.4,701.5 285.4,738.7 286.4,707.6 287.4,710.3 288.5,696.9 289.5,695.6 290.5,693.0 291.5,697.7 292.6,709.2 293.6,703.8 294.6,716.2 295.6,712.5 296.7,712.6 297.7,719.1 298.7,716.0 299.7,711.0 300.8,719.0 301.8,709.0 302.8,718.4 303.8,714.5 304.9,683.2 305.9,713.9 306.9,702.5 308.0,696.6 309.0,696.6 310.0,721.9 311.0,711.4 312.1,713.0 313.1,717.6 314.1,729.6 315.1,709.7 316.2,721.6 317.2,710.8 318.2,700.8 319.2,713.5 320.3,700.8 321.3,723.3 322.3,723.3 323.3,712.6 324.4,725.4 325.4,725.4 326.4,725.4 327.4,716.6 328.5,719.4 329.5,723.3 330.5,688.1 331.5,709.3 332.6,720.5 333.6,713.2 334.6,723.3 335.6,717.1 336.7,701.1 337.7,702.8 338.7,701.1 339.8,707.2 340.8,702.9 341.8,701.1 342.8,716.9 343.9,720.4 344.9,711.2 345.9,712.0 346.9,713.1 348.0,704.9 349.0,710.4 350.0,731.0 351.0,717.5 352.1,717.9 353.1,702.9 354.1,715.8 355.1,690.2 356.2,707.4 357.2,714.0 358.2,726.1 359.2,711.2 360.3,714.6 361.3,707.1 362.3,706.0 363.3,709.9 364.4,719.8 365.4,709.3 366.4,719.8 367.4,693.0 368.5,692.3 369.5,703.5 370.5,719.1 371.5,692.3 372.6,705.0 373.6,702.5 374.6,721.9 375.7,721.0 376.7,718.2 377.7,716.1 378.7,725.4 379.8,720.0 380.8,727.5 381.8,719.6 382.8,714.2 383.9,711.7 384.9,719.6 385.9,713.0 386.9,701.1 388.0,726.7 389.0,727.5 390.0,708.9 391.0,690.9 392.1,710.7 393.1,698.6 394.1,714.3 395.1,729.6 396.2,709.1 397.2,703.3 398.2,704.7 399.2,720.1 400.3,721.4 401.3,713.2 402.3,695.8 403.3,701.5 404.4,717.3 405.4,726.7 406.4,733.8 407.4,723.2 408.5,695.3 409.5,707.4 410.5,712.8 411.6,696.0 412.6,693.6 413.6,707.9 414.6,676.9 415.7,703.7 416.7,714.8 417.7,702.6 418.7,719.1 419.8,708.3 420.8,683.2 421.8,711.6 422.8,708.9 423.9,719.1 424.9,719.1 425.9,710.8 426.9,704.3 428.0,695.2 429.0,681.1 430.0,707.7 431.0,708.6 432.1,719.0 433.1,711.5 434.1,716.0 435.1,701.1 436.2,702.4 437.2,721.7 438.2,719.2 439.2,706.9 440.3,721.9 441.3,705.7 442.3,721.9 443.3,692.3 444.4,716.2 445.4,709.7 446.4,720.6 447.5,724.0 448.5,712.1 449.5,711.6 450.5,719.9 451.6,696.6 452.6,707.3 453.6,709.8 454.6,716.9 455.7,718.5 456.7,719.8 457.7,710.5 458.7,719.8 459.8,703.8 460.8,713.1 461.8,678.3 462.8,720.5 463.9,713.3 464.9,704.8 465.9,715.1 466.9,714.1 468.0,720.5 469.0,709.7 470.0,704.1 471.0,728.7 472.1,714.4 473.1,729.6 474.1,699.9 475.1,688.1 476.2,706.9 477.2,707.9 478.2,717.4 479.2,702.2 480.3,721.2 481.3,721.2 482.3,701.4 483.4,716.5 484.4,686.7 485.4,712.1 486.4,714.1 487.5,724.7 488.5,705.7 489.5,712.6 490.5,719.6 491.6,698.8 492.6,696.6 493.6,701.4 494.6,703.5 495.7,716.6 496.7,717.4 497.7,722.6 498.7,722.6 499.8,722.5 500.8,702.2 501.8,708.1 502.8,713.5 503.9,731.0 504.9,728.6 505.9,707.7 506.9,704.3 508.0,709.8 509.0,733.1 510.0,724.8 511.0,709.9 512.1,716.9 513.1,712.2 514.1,723.3 515.1,712.8 516.2,710.5 517.2,695.3 518.2,695.1 519.3,695.1 520.3,712.2 521.3,701.7 522.3,704.8 523.4,728.9 524.4,718.8 525.4,700.6 526.4,709.5 527.5,724.5 528.5,703.6 529.5,708.9 530.5,714.5 531.6,694.4 532.6,712.8 533.6,703.2 534.6,716.0 535.7,710.9 536.7,702.5 537.7,722.6 538.7,722.6 539.8,708.5 540.8,701.7 541.8,704.7 542.8,694.4 543.9,710.5 544.9,719.8 545.9,699.1 546.9,721.9 548.0,722.9 549.0,714.0 550.0,716.2 551.0,727.0 552.1,715.9 553.1,717.3 554.1,730.3 555.2,726.7 556.2,698.0 557.2,701.9 558.2,713.2 559.3,697.9 560.3,718.0 561.3,696.6 562.3,707.6 563.4,706.3 564.4,696.6 565.4,718.6 566.4,711.6 567.5,710.7 568.5,738.7 569.5,708.2 570.5,708.6 571.6,707.4 572.6,731.7 573.6,693.7 574.6,707.0 575.7,706.8 576.7,719.2 577.7,696.0 578.7,731.7 579.8,712.4 580.8,702.5 581.8,714.4 582.8,693.1 583.9,708.2 584.9,691.6 585.9,692.1 587.0,695.8 588.0,708.3 589.0,716.9 590.0,687.4 591.1,710.0 592.1,709.8 593.1,696.3 594.1,708.4 595.2,718.3 596.2,687.4 597.2,690.7 598.2,714.9 599.3,704.7 600.3,719.1 601.3,693.0 602.3,703.1 603.4,709.5 604.4,705.4 605.4,698.7 606.4,709.4 607.5,703.8 608.5,723.3 609.5,702.1 610.5,726.1 611.6,717.7 612.6,723.3 613.6,705.7 614.6,709.4 615.7,703.3 616.7,726.1 617.7,711.9 618.7,715.6 619.8,727.5 620.8,704.2 621.8,718.5 622.9,730.3 623.9,719.1 624.9,692.3 625.9,705.8 627.0,707.8 628.0,719.1 629.0,706.6 630.0,702.6 631.1,698.0 632.1,715.5 633.1,702.6 634.1,706.2 635.2,711.0 636.2,717.7 637.2,705.7 638.2,718.7 639.3,737.3 640.3,696.1 641.3,690.2 642.3,724.9 643.4,703.8 644.4,716.2 645.4,699.8 646.4,741.5 647.5,710.1 648.5,715.1 649.5,703.4 650.5,723.3 651.6,676.9 652.6,698.0 653.6,699.2 654.6,703.3 655.7,695.5 656.7,704.6 657.7,710.6 658.8,695.8 659.8,709.0 660.8,701.1 661.8,698.3 662.9,696.9 663.9,701.9 664.9,703.4 665.9,713.8 667.0,727.5 668.0,720.8 669.0,704.3 670.0,718.0 671.1,721.9 672.1,701.3 673.1,735.9 674.1,728.7 675.2,705.9 676.2,713.7 677.2,696.6 678.2,708.7 679.3,707.0 680.3,705.0 681.3,716.8 682.3,719.0 683.4,724.7 684.4,695.1 685.4,717.8 686.4,714.9 687.5,702.7 688.5,726.2 689.5,722.2 690.5,695.1 691.6,701.4 692.6,707.7 693.6,721.0 694.7,731.0 695.7,693.0 696.7,709.8 697.7,714.1 698.8,696.5 699.8,713.5 700.8,705.6 701.8,710.2 702.9,700.8 703.9,700.8 704.9,701.1 705.9,711.1 707.0,712.5 708.0,709.7 709.0,727.5 710.0,707.9 711.1,698.6 712.1,704.9 713.1,685.3 714.1,706.3 715.2,719.0 716.2,714.1 717.2,720.1 718.2,720.5 719.3,709.3 720.3,719.3 721.3,706.7 722.3,710.5 723.4,698.4 724.4,686.0 725.4,703.7 726.4,710.0 727.5,719.1 728.5,719.1 729.5,688.1 730.6,708.1 731.6,717.4 732.6,713.5 733.6,728.9 734.7,711.6 735.7,709.0 736.7,705.0 737.7,722.0 738.8,703.8 739.8,694.4 740.8,716.4 741.8,724.7 742.9,702.3 743.9,705.2 744.9,717.4 745.9,716.7 747.0,716.2 748.0,709.5 749.0,705.7 750.0,736.6 751.1,699.2 752.1,708.4 753.1,698.0 754.1,705.7 755.2,709.0 756.2,722.4 757.2,724.0 758.2,723.3 759.3,701.8 760.3,711.1 761.3,689.5 762.3,701.6 763.4,708.9 764.4,715.4 765.4,723.3 766.5,704.1 767.5,711.0 768.5,708.7 769.5,692.7 770.6,672.6 771.6,708.5 772.6,691.8 773.6,702.6 774.7,719.8 775.7,719.8 776.7,713.1 777.7,694.9 778.8,707.3 779.8,718.3 780.8,711.7 781.8,704.6 782.9,700.4 783.9,713.8 784.9,679.0 785.9,709.7 787.0,712.3 788.0,723.7 789.0,711.6 790.0,713.3 791.1,696.0 792.1,727.5 793.1,721.6 794.1,714.1 795.2,738.7 796.2,708.2 797.2,712.4 798.2,726.0 799.3,698.0 800.3,719.0 801.3,717.5 802.4,719.1 803.4,685.3 804.4,699.4 805.4,696.8 806.5,705.2 807.5,704.9 808.5,709.4 809.5,699.4 810.6,731.0 811.6,705.8 812.6,729.4 813.6,708.7 814.7,729.4 815.7,728.2 816.7,702.6 817.7,722.0 818.8,718.8 819.8,701.1 820.8,718.8 821.8,729.6 822.9,715.3 823.9,703.4 824.9,709.4 825.9,712.6 827.0,693.0 828.0,704.5 829.0,710.7 830.0,736.6 831.1,717.0 832.1,701.1 833.1,726.6 834.1,713.1 835.2,721.9 836.2,719.2 837.2,699.7 838.3,721.9 839.3,699.6 840.3,713.3 841.3,698.0 842.4,721.3 843.4,710.3 844.4,698.6 845.4,722.6 846.5,687.4 847.5,705.3 848.5,703.2 849.5,719.1 850.6,693.7 851.6,705.5 852.6,717.0 853.6,703.6 854.7,706.3 855.7,716.7 856.7,701.1 857.7,709.5 858.8,701.1 859.8,709.9 860.8,718.3 861.8,699.8 862.9,705.2 863.9,710.8 864.9,716.3 865.9,717.4 867.0,707.3 868.0,694.4 869.0,694.4 870.1,717.4 871.1,720.5 872.1,713.9 873.1,720.5 874.2,704.3 875.2,691.6 876.2,722.3 877.2,699.9 878.3,715.3 879.3,714.1 880.3,712.8 881.3,724.7 882.4,704.3 883.4,708.4 884.4,701.1 885.4,702.8 886.5,707.6 887.5,724.7 888.5,709.4 889.5,712.9 890.6,703.6 891.6,701.1 892.6,711.0 893.6,713.7 894.7,701.1 895.7,703.2 896.7,719.1 897.7,719.1 898.8,719.1 899.8,718.3 900.8,674.8 901.8,700.7 902.9,711.0 903.9,704.5 904.9,702.8 906.0,707.2 907.0,707.0 908.0,698.0 909.0,700.1 910.1,723.3 911.1,700.8 912.1,706.6 913.1,719.5 914.2,704.0 915.2,723.3 916.2,712.0 917.2,701.1 918.3,706.4 919.3,701.9 920.3,708.0 921.3,714.4 922.4,715.3 923.4,703.6 924.4,723.1 925.4,720.3 926.5,711.5 927.5,722.2 928.5,704.7 929.5,740.1 930.6,726.8 931.6,720.0 932.6,699.2 933.6,705.6 934.7,718.3 935.7,714.8 936.7,718.1 937.7,691.6 938.8,696.9 939.8,707.1 940.8,701.5 941.9,711.1 942.9,712.5 943.9,731.0 944.9,711.9 946.0,718.0 947.0,719.7 948.0,713.8 949.0,701.1 950.1,723.7 951.1,719.8 952.1,714.4 953.1,711.0 954.2,696.6 955.2,713.2 956.2,701.6 957.2,696.2 958.3,718.5 959.3,703.7 960.3,708.8 961.3,680.4 962.4,722.3 963.4,693.0 964.4,704.4 965.4,727.5 966.5,706.8 967.5,701.1 968.5,714.2 969.5,715.0 970.6,720.2 971.6,728.2 972.6,707.9 973.6,712.7 974.7,709.3 975.7,703.9 976.7,709.7 977.8,683.2 978.8,697.1 979.8,715.6 980.8,713.9 981.9,713.6 982.9,690.1 983.9,707.6 984.9,705.5 986.0,686.0 987.0,713.1 988.0,695.5 989.0,721.5 990.1,715.1 991.1,727.5 992.1,725.5 993.1,716.6 994.2,723.3 995.2,698.4 996.2,712.9 997.2,682.5 998.3,716.3 999.3,694.8 1000.3,719.1 1001.3,719.1 1002.4,690.2 1003.4,704.3 1004.4,694.7 1005.4,700.6 1006.5,704.1 1007.5,712.4 1008.5,715.4 1009.5,704.2 1010.6,719.8 1011.6,705.2 1012.6,686.7 1013.7,719.4 1014.7,697.0 1015.7,713.4 1016.7,717.4 1017.8,701.8 1018.8,721.9 1019.8,709.8 1020.8,703.3 1021.9,701.4 1022.9,710.5 1023.9,718.7 1024.9,692.6 1026.0,713.5 1027.0,706.0 1028.0,691.6 1029.0,719.0 1030.1,710.8 1031.1,710.4 1032.1,718.2 1033.1,702.6 1034.2,719.1 1035.2,718.8 1036.2,705.3 1037.2,701.1 1038.3,710.4 1039.3,706.9 1040.3,715.5 1041.3,716.3 1042.4,719.1 1043.4,706.8 1044.4,692.3 1045.4,703.5 1046.5,704.2 1047.5,719.1 1048.5,706.7 1049.6,707.2 1050.6,705.1 1051.6,711.5 1052.6,714.1 1053.7,707.8 1054.7,698.7 1055.7,705.0 1056.7,727.5 1057.8,709.3 1058.8,714.4 1059.8,714.6 1060.8,724.0 1061.9,724.0 1062.9,717.5 1063.9,724.0 1064.9,724.0 1066.0,691.6 1067.0,702.0 1068.0,709.1 1069.0,715.1 1070.1,701.7 1071.1,703.3 1072.1,715.7 1073.1,697.6 1074.2,707.4 1075.2,679.0 1076.2,705.3 1077.2,717.2 1078.3,728.9 1079.3,701.1 1080.3,706.5 1081.3,709.0 1082.4,707.1 1083.4,709.8 1084.4,712.6 1085.5,702.2 1086.5,711.2 1087.5,706.8 1088.5,726.8 1089.6,708.5 1090.6,706.5 1091.6,724.3 1092.6,701.1 1093.7,727.5 1094.7,698.0 1095.7,703.3 1096.7,698.0 1097.8,705.9 1098.8,722.4 1099.8,724.0 1100.8,707.5 1101.9,703.6 1102.9,708.7 1103.9,704.9 1104.9,703.5 1106.0,693.7 1107.0,716.8 1108.0,708.9 1109.0,708.7 1110.1,706.2 1111.1,703.1 1112.1,723.3 1113.1,699.7 1114.2,708.4 1115.2,692.8 1116.2,711.9 1117.3,701.1 1118.3,695.3 1119.3,675.5 1120.3,709.7 1121.4,708.1 1122.4,708.2 1123.4,722.8 1124.4,726.2 1125.5,697.6 1126.5,718.3 1127.5,729.6 1128.5,696.2 1129.6,691.6 1130.6,716.6 1131.6,706.1 1132.6,719.0 1133.7,719.1 1134.7,695.8 1135.7,707.0 1136.7,719.1 1137.8,713.0 1138.8,702.5 1139.8,699.7 1140.8,706.2 1141.9,711.9 1142.9,719.1 1143.9,717.6 1144.9,711.6 1146.0,699.2 1147.0,717.5 1148.0,709.2 1149.0,697.8 1150.1,688.8 1151.1,710.0 1152.1,712.2 1153.2,717.6 1154.2,700.2 1155.2,726.1 1156.2,695.8 1157.3,695.8 1158.3,720.5 1159.3,718.4 1160.3,700.9 1161.4,715.7 1162.4,722.0 1163.4,718.1 1164.4,724.7 1165.5,694.4 1166.5,694.4 1167.5,707.9 1168.5,697.9 1169.6,703.7 1170.6,704.6 1171.6,712.2 1172.6,696.3 1173.7,709.8 1174.7,719.1 1175.7,708.6 1176.7,712.9 1177.8,700.1 1178.8,727.5 1179.8,707.6 1180.8,710.2 1181.9,713.0 1182.9,696.6 1183.9,719.1 1184.9,705.4 1186.0,718.4 1187.0,699.9 1188.0,696.6 1189.1,720.2 1190.1,714.0 1191.1,696.6 1192.1,711.1 1193.2,726.1 1194.2,715.7 1195.2,715.2 1196.2,711.9 1197.3,702.5 1198.3,700.8 1199.3,700.8 1200.3,710.6 1201.4,708.3 1202.4,723.3 1203.4,723.3 1204.4,715.9 1205.5,717.5 1206.5,706.1 1207.5,697.0 1208.5,723.3 1209.6,714.2 1210.6,717.8 1211.6,688.1 1212.6,692.6 1213.7,721.7 1214.7,695.3 1215.7,730.3 1216.7,706.4 1217.8,711.8 1218.8,715.6 1219.8,689.5 1220.8,692.5 1221.9,712.0 1222.9,693.9"/>
<line x1="197.6" y1="262.1" x2="1222.8" y2="268.9" stroke="#ff0000"/>
<line x1="197.6" y1="452" x2="1222.8" y2="452" stroke="#000"/>
<polyline stroke="#000" points="197.6,658.75 233.0,658.97 268.3,659.18 303.7,659.37 339.0,659.55 374.4,659.72 409.7,659.87 445.1,660.01 480.4,660.13 515.8,660.24 551.1,660.34 586.5,660.42 621.8,660.49 657.2,660.54 692.5,660.58 727.9,660.60 763.2,660.62 798.6,660.61 833.9,660.60 869.3,660.57 904.6,660.52 940.0,660.47 975.3,660.39 1010.7,660.31 1046.0,660.21 1081.4,660.09 1116.7,659.97 1152.1,659.82 1187.4,659.67 1222.8,659.50"/>
<line x1="197.6" y1="710.1" x2="1222.8" y2="710.1" stroke="#0000ff"/>
</g>
<g fill="none" stroke="#000" stroke-width="2" stroke-linecap="round">
<rect x="157.44" y="157.44" width="1105.92" height="606.72" stroke-linejoin="round"/>
<path d="M300.7 764.16V783.36M505.76 764.16V783.36M710.8 764.16V783.36M915.85 764.16V783.36M1120.9 764.16V783.36"/>
<path d="M157.44 208.85H138.24M157.44 385.65H138.24M157.44 562.45H138.24M157.44 739.3H138.24"/>
</g>
<g fill="#000" text-anchor="middle">
<g transform="translate(0 833) scale(1 1.04) translate(0 -833)">
<text x="300.7" y="833">4000</text>
<text x="505.76" y="833">6000</text>
<text x="710.8" y="833">8000</text>
<text x="889.16" y="833" text-anchor="start">0000</text>
<text x="1094.21" y="833" text-anchor="start">2000</text>
<path transform="translate(871.36 833) scale(0.015625 -0.015625)" d="M485 0V1010H160V1125C310 1135 440 1230 500 1409H667V0Z"/>
<path transform="translate(1076.41 833) scale(0.015625 -0.015625)" d="M485 0V1010H160V1125C310 1135 440 1230 500 1409H667V0Z"/>
</g>
<text x="710.4" y="910">Iterations</text>
<g transform="translate(111.4 208.9) rotate(-90) scale(1 1.04)"><text x="-4.45" y="0" text-anchor="start">.0</text><path transform="translate(-22.25 0) scale(0.015625 -0.015625)" d="M485 0V1010H160V1125C310 1135 440 1230 500 1409H667V0Z"/></g>
<text transform="translate(111.4 385.9) rotate(-90) scale(1 1.04)">0.5</text>
<text transform="translate(111.4 562.9) rotate(-90) scale(1 1.04)">0.0</text>
<text transform="translate(111.4 740.1) rotate(-90) scale(1 1.04)">-0.5</text>
</g>
</svg>
</body></html>
